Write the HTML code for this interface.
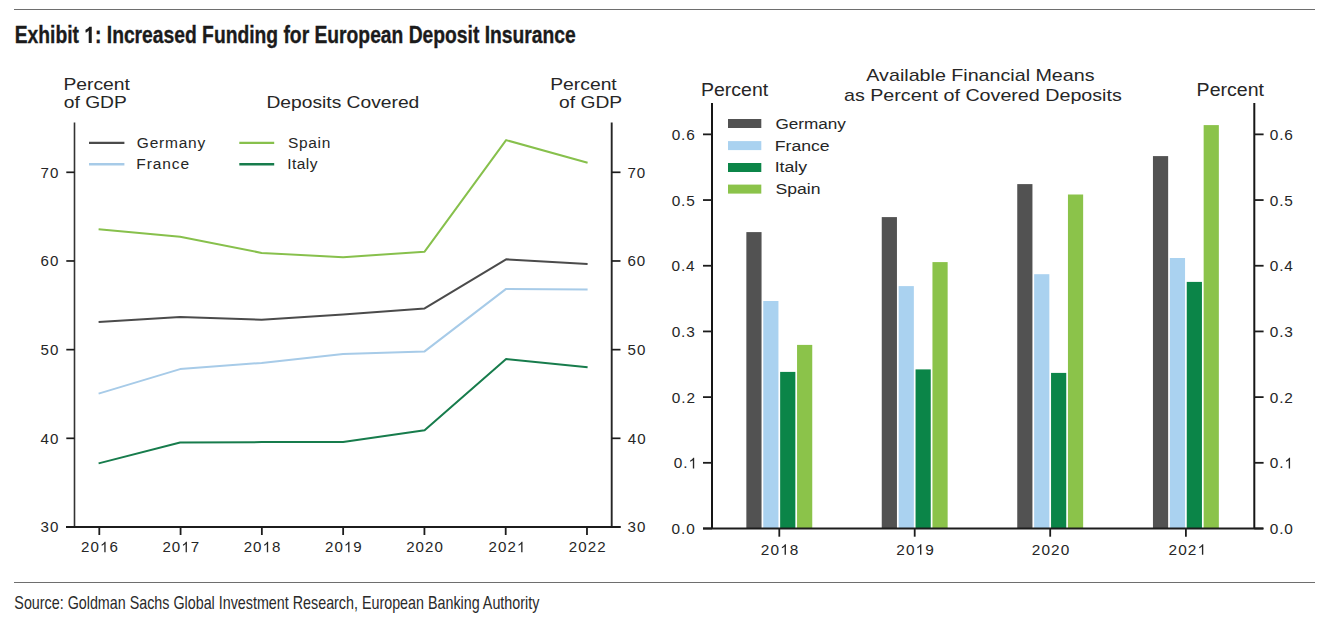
<!DOCTYPE html>
<html><head><meta charset="utf-8"><title>Exhibit 1</title>
<style>
html,body{margin:0;padding:0;background:#fff;}
svg{display:block;font-family:"Liberation Sans",sans-serif;}
</style></head><body>
<svg width="1319" height="629" viewBox="0 0 1319 629">
<rect width="1319" height="629" fill="#fff"/>
<rect x="14" y="9" width="1301" height="1" fill="#6e6e6e"/>
<rect x="14" y="582" width="1301" height="1" fill="#6e6e6e"/>
<text x="14.71" y="42.90" font-size="23.4" textLength="561.05" lengthAdjust="spacingAndGlyphs" font-weight="bold" fill="#1b1b1b" stroke="#1b1b1b" stroke-width="0.35">Exhibit  : Increased Funding for European Deposit Insurance</text><path d="M790 0L470 0L470 1080Q400 1010 300 960Q210 915 130 900L130 1150Q290 1200 395 1275Q490 1345 530 1409L790 1409Z" fill="#1b1b1b" transform="translate(84.300,42.90) scale(0.009409,-0.011426)"/>
<text x="14.35" y="608.80" font-size="17.8" textLength="524.98" lengthAdjust="spacingAndGlyphs" fill="#2a2a2a">Source: Goldman Sachs Global Investment Research, European Banking Authority</text>
<text x="63.42" y="89.80" font-size="17" textLength="66.52" lengthAdjust="spacingAndGlyphs" fill="#262626">Percent</text>
<text x="63.79" y="108.20" font-size="17" textLength="63.02" lengthAdjust="spacingAndGlyphs" fill="#262626">of GDP</text>
<text x="266.42" y="107.50" font-size="17" textLength="152.92" lengthAdjust="spacingAndGlyphs" fill="#262626">Deposits Covered</text>
<text x="550.22" y="89.90" font-size="17" textLength="66.52" lengthAdjust="spacingAndGlyphs" fill="#262626">Percent</text>
<text x="559.09" y="107.90" font-size="17" textLength="63.02" lengthAdjust="spacingAndGlyphs" fill="#262626">of GDP</text>
<line x1="74.5" y1="122.5" x2="74.5" y2="527" stroke="#333" stroke-width="1.6"/>
<line x1="611.7" y1="122.5" x2="611.7" y2="527" stroke="#262626" stroke-width="1.9"/>
<line x1="66" y1="527" x2="620.6" y2="527" stroke="#1c1c1c" stroke-width="2"/>
<line x1="66.3" y1="527.00" x2="74.5" y2="527.00" stroke="#1c1c1c" stroke-width="1.7"/>
<line x1="611.7" y1="527.00" x2="620.5" y2="527.00" stroke="#1c1c1c" stroke-width="1.7"/>
<text x="40.59" y="532.30" font-size="15.1" letter-spacing="1.000" fill="#262626">30</text>
<text x="627.62" y="532.30" font-size="15.1" letter-spacing="1.000" fill="#262626">30</text>
<line x1="66.3" y1="438.32" x2="74.5" y2="438.32" stroke="#1c1c1c" stroke-width="1.7"/>
<line x1="611.7" y1="438.32" x2="620.5" y2="438.32" stroke="#1c1c1c" stroke-width="1.7"/>
<text x="40.59" y="443.62" font-size="15.1" letter-spacing="1.000" fill="#262626">40</text>
<text x="627.85" y="443.62" font-size="15.1" letter-spacing="1.000" fill="#262626">40</text>
<line x1="66.3" y1="349.65" x2="74.5" y2="349.65" stroke="#1c1c1c" stroke-width="1.7"/>
<line x1="611.7" y1="349.65" x2="620.5" y2="349.65" stroke="#1c1c1c" stroke-width="1.7"/>
<text x="40.59" y="354.95" font-size="15.1" letter-spacing="1.000" fill="#262626">50</text>
<text x="627.60" y="354.95" font-size="15.1" letter-spacing="1.000" fill="#262626">50</text>
<line x1="66.3" y1="260.98" x2="74.5" y2="260.98" stroke="#1c1c1c" stroke-width="1.7"/>
<line x1="611.7" y1="260.98" x2="620.5" y2="260.98" stroke="#1c1c1c" stroke-width="1.7"/>
<text x="40.59" y="266.28" font-size="15.1" letter-spacing="1.000" fill="#262626">60</text>
<text x="627.43" y="266.28" font-size="15.1" letter-spacing="1.000" fill="#262626">60</text>
<line x1="66.3" y1="172.30" x2="74.5" y2="172.30" stroke="#1c1c1c" stroke-width="1.7"/>
<line x1="611.7" y1="172.30" x2="620.5" y2="172.30" stroke="#1c1c1c" stroke-width="1.7"/>
<text x="40.59" y="177.60" font-size="15.1" letter-spacing="1.000" fill="#262626">70</text>
<text x="627.43" y="177.60" font-size="15.1" letter-spacing="1.000" fill="#262626">70</text>
<line x1="99.30" y1="527" x2="99.30" y2="535" stroke="#1c1c1c" stroke-width="1.8"/>
<text x="81.08" y="552.20" font-size="15.1" letter-spacing="1.050" fill="#262626">20 6</text>
<path d="M763 0L583 0L583 1100Q520 1040 420 980Q320 920 223 885L223 1050Q360 1115 470 1210Q580 1305 640 1409L763 1409Z" fill="#262626" transform="translate(99.98,552.20) scale(0.007373,-0.007373)"/>
<line x1="180.58" y1="527" x2="180.58" y2="535" stroke="#1c1c1c" stroke-width="1.8"/>
<text x="162.41" y="552.20" font-size="15.1" letter-spacing="1.050" fill="#262626">20 7</text>
<path d="M763 0L583 0L583 1100Q520 1040 420 980Q320 920 223 885L223 1050Q360 1115 470 1210Q580 1305 640 1409L763 1409Z" fill="#262626" transform="translate(181.30,552.20) scale(0.007373,-0.007373)"/>
<line x1="261.86" y1="527" x2="261.86" y2="535" stroke="#1c1c1c" stroke-width="1.8"/>
<text x="243.64" y="552.20" font-size="15.1" letter-spacing="1.050" fill="#262626">20 8</text>
<path d="M763 0L583 0L583 1100Q520 1040 420 980Q320 920 223 885L223 1050Q360 1115 470 1210Q580 1305 640 1409L763 1409Z" fill="#262626" transform="translate(262.53,552.20) scale(0.007373,-0.007373)"/>
<line x1="343.14" y1="527" x2="343.14" y2="535" stroke="#1c1c1c" stroke-width="1.8"/>
<text x="324.95" y="552.20" font-size="15.1" letter-spacing="1.050" fill="#262626">20 9</text>
<path d="M763 0L583 0L583 1100Q520 1040 420 980Q320 920 223 885L223 1050Q360 1115 470 1210Q580 1305 640 1409L763 1409Z" fill="#262626" transform="translate(343.84,552.20) scale(0.007373,-0.007373)"/>
<line x1="424.42" y1="527" x2="424.42" y2="535" stroke="#1c1c1c" stroke-width="1.8"/>
<text x="406.16" y="552.20" font-size="15.1" letter-spacing="1.050" fill="#262626">2020</text>
<line x1="505.70" y1="527" x2="505.70" y2="535" stroke="#1c1c1c" stroke-width="1.8"/>
<text x="488.54" y="552.20" font-size="15.1" letter-spacing="1.050" fill="#262626">202 </text>
<path d="M763 0L583 0L583 1100Q520 1040 420 980Q320 920 223 885L223 1050Q360 1115 470 1210Q580 1305 640 1409L763 1409Z" fill="#262626" transform="translate(516.88,552.20) scale(0.007373,-0.007373)"/>
<line x1="586.98" y1="527" x2="586.98" y2="535" stroke="#1c1c1c" stroke-width="1.8"/>
<text x="568.81" y="552.20" font-size="15.1" letter-spacing="1.050" fill="#262626">2022</text>
<line x1="89" y1="142.9" x2="124.4" y2="142.9" stroke="#4b4b4b" stroke-width="2.4"/>
<line x1="89" y1="164.2" x2="124.4" y2="164.2" stroke="#a7cbe8" stroke-width="2.4"/>
<line x1="239.3" y1="142.9" x2="274.2" y2="142.9" stroke="#87c04c" stroke-width="2.4"/>
<line x1="239.3" y1="164.2" x2="274.2" y2="164.2" stroke="#177c4c" stroke-width="2.4"/>
<text x="136.82" y="148.30" font-size="15.5" letter-spacing="0.778" fill="#262626">Germany</text>
<text x="136.33" y="169.40" font-size="15.5" letter-spacing="0.904" fill="#262626">France</text>
<text x="287.90" y="148.30" font-size="15.5" letter-spacing="0.717" fill="#262626">Spain</text>
<text x="287.17" y="169.40" font-size="15.5" letter-spacing="0.483" fill="#262626">Italy</text>
<polyline points="98.6,393.6 180.1,369.1 261.6,362.9 343.1,353.9 424.6,351.4 506.1,288.9 587.6,289.6" fill="none" stroke="#a7cbe8" stroke-width="2" stroke-linejoin="round"/>
<polyline points="98.6,463.4 180.1,442.5 261.6,442.1 343.1,442.0 424.6,430.3 506.1,359.1 587.6,367.3" fill="none" stroke="#177c4c" stroke-width="2" stroke-linejoin="round"/>
<polyline points="98.6,322.0 180.1,317.0 261.6,319.8 343.1,314.6 424.6,308.4 506.1,259.3 587.6,264.1" fill="none" stroke="#4b4b4b" stroke-width="2" stroke-linejoin="round"/>
<polyline points="98.6,229.3 180.1,236.7 261.6,252.9 343.1,257.2 424.6,251.7 506.1,140.1 587.6,162.8" fill="none" stroke="#87c04c" stroke-width="2" stroke-linejoin="round"/>
<text x="701.00" y="95.70" font-size="17.5" textLength="67.14" lengthAdjust="spacingAndGlyphs" fill="#262626">Percent</text>
<text x="1196.60" y="95.70" font-size="17.5" textLength="67.35" lengthAdjust="spacingAndGlyphs" fill="#262626">Percent</text>
<text x="866.36" y="80.90" font-size="16.4" textLength="228.15" lengthAdjust="spacingAndGlyphs" fill="#262626">Available Financial Means</text>
<text x="843.96" y="100.50" font-size="16.4" textLength="277.85" lengthAdjust="spacingAndGlyphs" fill="#262626">as Percent of Covered Deposits</text>
<rect x="746.35" y="232.10" width="15.2" height="296.40" fill="#525252"/>
<rect x="763.25" y="301.00" width="15.2" height="227.50" fill="#aad2f0"/>
<rect x="780.15" y="371.90" width="15.2" height="156.60" fill="#0b8548"/>
<rect x="797.05" y="344.90" width="15.2" height="183.60" fill="#8bc34a"/>
<rect x="881.75" y="217.10" width="15.2" height="311.40" fill="#525252"/>
<rect x="898.65" y="286.10" width="15.2" height="242.40" fill="#aad2f0"/>
<rect x="915.55" y="369.40" width="15.2" height="159.10" fill="#0b8548"/>
<rect x="932.45" y="262.10" width="15.2" height="266.40" fill="#8bc34a"/>
<rect x="1017.25" y="184.10" width="15.2" height="344.40" fill="#525252"/>
<rect x="1034.15" y="274.20" width="15.2" height="254.30" fill="#aad2f0"/>
<rect x="1051.05" y="372.90" width="15.2" height="155.60" fill="#0b8548"/>
<rect x="1067.95" y="194.50" width="15.2" height="334.00" fill="#8bc34a"/>
<rect x="1152.95" y="156.10" width="15.2" height="372.40" fill="#525252"/>
<rect x="1169.85" y="258.00" width="15.2" height="270.50" fill="#aad2f0"/>
<rect x="1186.75" y="281.90" width="15.2" height="246.60" fill="#0b8548"/>
<rect x="1203.65" y="125.10" width="15.2" height="403.40" fill="#8bc34a"/>
<line x1="779.30" y1="528.5" x2="779.30" y2="536.7" stroke="#1c1c1c" stroke-width="1.8"/>
<text x="760.87" y="554.80" font-size="15.4" letter-spacing="1.100" fill="#262626">20 8</text>
<path d="M763 0L583 0L583 1100Q520 1040 420 980Q320 920 223 885L223 1050Q360 1115 470 1210Q580 1305 640 1409L763 1409Z" fill="#262626" transform="translate(780.20,554.80) scale(0.007520,-0.007520)"/>
<line x1="914.70" y1="528.5" x2="914.70" y2="536.7" stroke="#1c1c1c" stroke-width="1.8"/>
<text x="896.30" y="554.80" font-size="15.4" letter-spacing="1.100" fill="#262626">20 9</text>
<path d="M763 0L583 0L583 1100Q520 1040 420 980Q320 920 223 885L223 1050Q360 1115 470 1210Q580 1305 640 1409L763 1409Z" fill="#262626" transform="translate(915.63,554.80) scale(0.007520,-0.007520)"/>
<line x1="1050.20" y1="528.5" x2="1050.20" y2="536.7" stroke="#1c1c1c" stroke-width="1.8"/>
<text x="1031.73" y="554.80" font-size="15.4" letter-spacing="1.100" fill="#262626">2020</text>
<line x1="1185.90" y1="528.5" x2="1185.90" y2="536.7" stroke="#1c1c1c" stroke-width="1.8"/>
<text x="1168.55" y="554.80" font-size="15.4" letter-spacing="1.100" fill="#262626">202 </text>
<path d="M763 0L583 0L583 1100Q520 1040 420 980Q320 920 223 885L223 1050Q360 1115 470 1210Q580 1305 640 1409L763 1409Z" fill="#262626" transform="translate(1197.54,554.80) scale(0.007520,-0.007520)"/>
<line x1="712" y1="103" x2="712" y2="528.5" stroke="#161616" stroke-width="2"/>
<line x1="1254.3" y1="103" x2="1254.3" y2="528.5" stroke="#161616" stroke-width="2"/>
<line x1="703" y1="528.5" x2="1263.2" y2="528.5" stroke="#1c1c1c" stroke-width="1.9"/>
<line x1="703" y1="528.50" x2="712" y2="528.50" stroke="#1c1c1c" stroke-width="1.8"/>
<line x1="1254.3" y1="528.50" x2="1263.6" y2="528.50" stroke="#1c1c1c" stroke-width="1.8"/>
<text x="671.59" y="534.10" font-size="15.4" letter-spacing="0.900" fill="#262626">0.0</text>
<text x="1269.70" y="534.10" font-size="15.4" letter-spacing="0.900" fill="#262626">0.0</text>
<line x1="703" y1="462.81" x2="712" y2="462.81" stroke="#1c1c1c" stroke-width="1.8"/>
<line x1="1254.3" y1="462.81" x2="1263.6" y2="462.81" stroke="#1c1c1c" stroke-width="1.8"/>
<text x="673.82" y="468.41" font-size="15.4" letter-spacing="0.900" fill="#262626">0. </text>
<path d="M763 0L583 0L583 1100Q520 1040 420 980Q320 920 223 885L223 1050Q360 1115 470 1210Q580 1305 640 1409L763 1409Z" fill="#262626" transform="translate(688.46,468.41) scale(0.007520,-0.007520)"/>
<text x="1269.70" y="468.41" font-size="15.4" letter-spacing="0.900" fill="#262626">0. </text>
<path d="M763 0L583 0L583 1100Q520 1040 420 980Q320 920 223 885L223 1050Q360 1115 470 1210Q580 1305 640 1409L763 1409Z" fill="#262626" transform="translate(1284.34,468.41) scale(0.007520,-0.007520)"/>
<line x1="703" y1="397.12" x2="712" y2="397.12" stroke="#1c1c1c" stroke-width="1.8"/>
<line x1="1254.3" y1="397.12" x2="1263.6" y2="397.12" stroke="#1c1c1c" stroke-width="1.8"/>
<text x="671.77" y="402.72" font-size="15.4" letter-spacing="0.900" fill="#262626">0.2</text>
<text x="1269.70" y="402.72" font-size="15.4" letter-spacing="0.900" fill="#262626">0.2</text>
<line x1="703" y1="331.43" x2="712" y2="331.43" stroke="#1c1c1c" stroke-width="1.8"/>
<line x1="1254.3" y1="331.43" x2="1263.6" y2="331.43" stroke="#1c1c1c" stroke-width="1.8"/>
<text x="671.67" y="337.03" font-size="15.4" letter-spacing="0.900" fill="#262626">0.3</text>
<text x="1269.70" y="337.03" font-size="15.4" letter-spacing="0.900" fill="#262626">0.3</text>
<line x1="703" y1="265.74" x2="712" y2="265.74" stroke="#1c1c1c" stroke-width="1.8"/>
<line x1="1254.3" y1="265.74" x2="1263.6" y2="265.74" stroke="#1c1c1c" stroke-width="1.8"/>
<text x="671.44" y="271.34" font-size="15.4" letter-spacing="0.900" fill="#262626">0.4</text>
<text x="1269.70" y="271.34" font-size="15.4" letter-spacing="0.900" fill="#262626">0.4</text>
<line x1="703" y1="200.05" x2="712" y2="200.05" stroke="#1c1c1c" stroke-width="1.8"/>
<line x1="1254.3" y1="200.05" x2="1263.6" y2="200.05" stroke="#1c1c1c" stroke-width="1.8"/>
<text x="671.64" y="205.65" font-size="15.4" letter-spacing="0.900" fill="#262626">0.5</text>
<text x="1269.70" y="205.65" font-size="15.4" letter-spacing="0.900" fill="#262626">0.5</text>
<line x1="703" y1="134.36" x2="712" y2="134.36" stroke="#1c1c1c" stroke-width="1.8"/>
<line x1="1254.3" y1="134.36" x2="1263.6" y2="134.36" stroke="#1c1c1c" stroke-width="1.8"/>
<text x="671.67" y="139.96" font-size="15.4" letter-spacing="0.900" fill="#262626">0.6</text>
<text x="1269.70" y="139.96" font-size="15.4" letter-spacing="0.900" fill="#262626">0.6</text>
<rect x="728" y="119" width="33.3" height="9" fill="#525252"/>
<text x="775.44" y="128.70" font-size="15.4" textLength="70.50" lengthAdjust="spacingAndGlyphs" fill="#262626">Germany</text>
<rect x="728" y="141.1" width="33.3" height="9" fill="#aad2f0"/>
<text x="774.85" y="150.60" font-size="15.4" textLength="54.83" lengthAdjust="spacingAndGlyphs" fill="#262626">France</text>
<rect x="728" y="163" width="33.3" height="9" fill="#0b8548"/>
<text x="774.67" y="172.40" font-size="15.4" textLength="32.47" lengthAdjust="spacingAndGlyphs" fill="#262626">Italy</text>
<rect x="728" y="184.6" width="33.3" height="9" fill="#8bc34a"/>
<text x="775.50" y="194.10" font-size="15.4" textLength="45.04" lengthAdjust="spacingAndGlyphs" fill="#262626">Spain</text>
</svg>
</body></html>
